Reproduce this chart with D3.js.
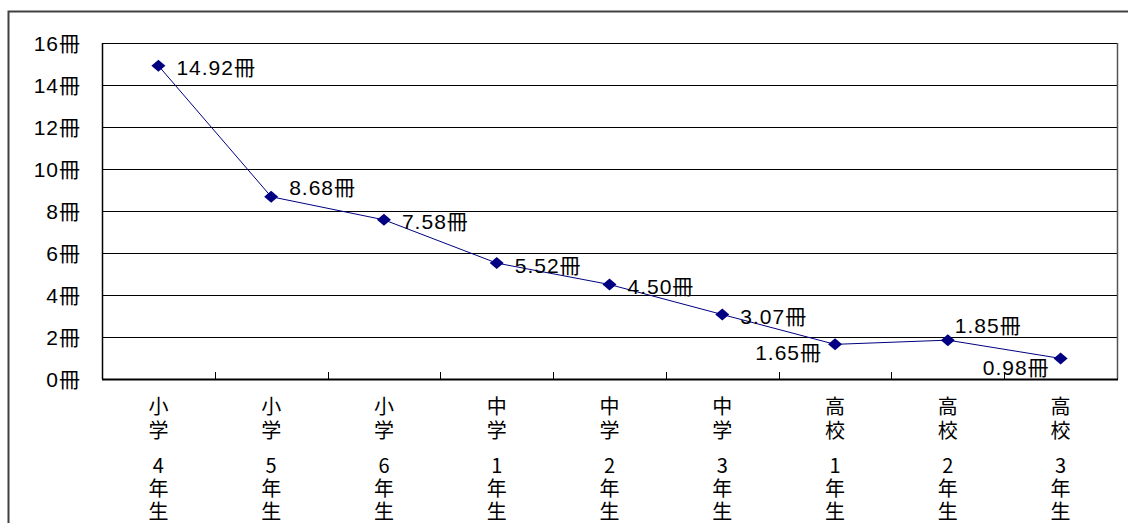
<!DOCTYPE html>
<html><head><meta charset="utf-8">
<script src="https://cdn.jsdelivr.net/npm/d3@7"></script>
<style>
html,body{margin:0;padding:0;background:#fff;}
svg{display:block;}
.vlab{writing-mode:vertical-rl;text-orientation:upright;}
</style></head>
<body>
<svg id="chart" width="1128" height="523"></svg>
<script>
const categories = ["小学4年生","小学5年生","小学6年生","中学1年生","中学2年生","中学3年生","高校1年生","高校2年生","高校3年生"];
const values = [14.92, 8.68, 7.58, 5.52, 4.50, 3.07, 1.65, 1.85, 0.98];
const yTicks = [0, 2, 4, 6, 8, 10, 12, 14, 16];
const yTickLabels = ["0冊","2冊","4冊","6冊","8冊","10冊","12冊","14冊","16冊"];
const unit = "冊";
const labelPlacement = ["right","aboveRight","right","right","right","right","leftBelow","above","leftBelow2"];

const svg = d3.select("#chart");
const L = 102, R = 1117, T = 43, B = 379;
const x = d3.scaleBand().domain(categories).range([L, R]);
const y = d3.scaleLinear().domain([0, 16]).range([B, T]);
const labelFont = "Liberation Sans, Arial, 'Noto Sans CJK JP', sans-serif";

// outer frame
svg.append("path").attr("d", `M8.5,523 V11.5 H1128`).attr("fill","none").attr("stroke","#404040").attr("stroke-width",2);

// gridlines
svg.append("g").selectAll("line").data(yTicks.filter(v => v > 0 && v < 16)).join("line")
  .attr("x1", L).attr("x2", R).attr("y1", d => Math.round(y(d)) + 0.5).attr("y2", d => Math.round(y(d)) + 0.5)
  .attr("stroke", "#000").attr("stroke-width", 1);

// plot border top/right/left
svg.append("line").attr("x1", L).attr("x2", R).attr("y1", T + 0.5).attr("y2", T + 0.5).attr("stroke","#000");
svg.append("line").attr("x1", R + 0.5).attr("x2", R + 0.5).attr("y1", T).attr("y2", B).attr("stroke","#555").attr("stroke-width",1.5);
svg.append("line").attr("x1", L + 0.5).attr("x2", L + 0.5).attr("y1", T).attr("y2", B).attr("stroke","#000").attr("stroke-width",1.5);

// y axis labels
const yAxis = d3.axisLeft(y).tickValues(yTicks).tickFormat((d,i) => yTickLabels[i]).tickSize(0).tickPadding(21);
const gy = svg.append("g").attr("transform", `translate(${L},0)`).call(yAxis);
gy.select(".domain").remove();
gy.selectAll("text").attr("font-family", labelFont)
  .attr("font-size", 21).attr("letter-spacing", 1).attr("fill", "#000").attr("dy", "0.36em");

// x axis line and ticks
const bounds = categories.slice(1).map(c => x(c));
svg.append("g").selectAll("line").data(bounds).join("line")
  .attr("x1", d => Math.round(d) + 0.5).attr("x2", d => Math.round(d) + 0.5)
  .attr("y1", B - 7).attr("y2", B).attr("stroke", "#000");
svg.append("line").attr("x1", L).attr("x2", R + 1).attr("y1", B + 0.5).attr("y2", B + 0.5).attr("stroke","#000").attr("stroke-width",2);

// category labels (vertical writing: school part and grade part)
const cx = c => x(c) + x.bandwidth() / 2;
const gc = svg.append("g").attr("font-family", "'Noto Sans CJK JP', sans-serif").attr("font-size", 20).attr("fill", "#000");
categories.forEach(c => {
  gc.append("text").attr("class", "vlab").attr("x", cx(c)).attr("y", 396)
    .attr("letter-spacing", 4).text(c.slice(0, 2));
  gc.append("text").attr("class", "vlab").attr("x", cx(c)).attr("y", 455)
    .attr("letter-spacing", 3).text(c.slice(2));
});

// line
const line = d3.line().x((d, i) => cx(categories[i])).y(d => y(d));
svg.append("path").datum(values).attr("d", line).attr("fill", "none").attr("stroke", "#000080").attr("stroke-width", 1);

// markers
svg.append("g").selectAll("path").data(values).join("path")
  .attr("d", (d, i) => {
    const px = cx(categories[i]), py = y(d);
    return `M${px - 7},${py} L${px},${py - 6} L${px + 7},${py} L${px},${py + 6} Z`;
  })
  .attr("fill", "#000080");

// data labels
const offsets = {
  right: {dx: 18, dy: 2, anchor: "start"},
  aboveRight: {dx: 18, dy: -9, anchor: "start"},
  above: {dx: 7, dy: -15, anchor: "start"},
  leftBelow: {dx: -13, dy: 8, anchor: "end"},
  leftBelow2: {dx: -11, dy: 9, anchor: "end"}
};
svg.append("g").selectAll("text").data(values).join("text")
  .attr("x", (d, i) => cx(categories[i]) + offsets[labelPlacement[i]].dx)
  .attr("y", (d, i) => y(d) + offsets[labelPlacement[i]].dy)
  .attr("dy", "0.36em")
  .attr("text-anchor", (d, i) => offsets[labelPlacement[i]].anchor)
  .attr("font-family", labelFont)
  .attr("font-size", 21).attr("letter-spacing", 1).attr("fill", "#000")
  .text(d => d.toFixed(2) + unit);
</script>
</body></html>
